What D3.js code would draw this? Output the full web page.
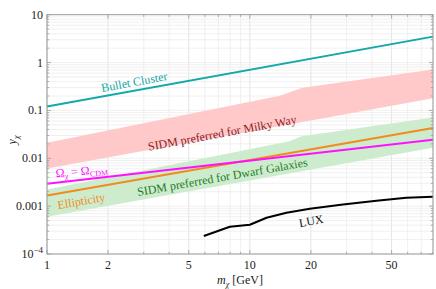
<!DOCTYPE html>
<html>
<head>
<meta charset="utf-8">
<script src="https://cdn.jsdelivr.net/npm/d3@7"></script>
<style>
  body { margin: 0; background: #fff; }
  text { font-family: "Liberation Serif", "DejaVu Serif", serif; }
</style>
</head>
<body>
<svg id="chart" width="436" height="289"></svg>
<script>
// data (m in GeV, y dimensionless)
const bulletCluster = [[1, 0.121], [80, 3.48]];
const omegaCDM = [[1, 0.00293], [80, 0.0245]];
const ellipticity = [[1, 0.00167], [80, 0.043]];
const milkyWayTop = [[1, 0.0212], [14.05, 0.202], [18.2, 0.297], [80, 0.72]];
const milkyWayBottom = [[1, 0.0061], [80, 0.18]];
const dwarfTop = [[1, 0.00223], [15.7, 0.0226], [18, 0.0288], [80, 0.0714]];
const dwarfBottom = [[1, 0.0006], [80, 0.0165]];
const lux = [[5.93, 2.37e-4], [7.97, 3.72e-4], [10.0, 4.09e-4], [12.09, 5.73e-4],
             [15.16, 7.28e-4], [19.75, 8.83e-4], [28.8, 1.08e-3], [42.1, 1.30e-3],
             [59.1, 1.50e-3], [80, 1.57e-3]];
const xTicks = [1, 2, 5, 10, 20, 50];
const yTicks = [1e-4, 1e-3, 1e-2, 0.1, 1, 10];
const yTickLabels = ["10^-4", "0.001", "0.01", "0.1", "1", "10"];

const svg = d3.select("#chart");
const margin = {left: 47, top: 14.7, right: 3, bottom: 35};
const W = 436, H = 289;

const x = d3.scaleLog().domain([1, 80]).range([margin.left, W - margin.right]);
const y = d3.scaleLog().domain([1e-4, 10]).range([H - margin.bottom, margin.top]);

// minor tick positions
const xMinor = [];
for (let d = 1; d <= 10; d *= 10)
  for (let k = 1; k < 10; k++) if (d * k <= 80) xMinor.push(d * k);
const yMinor = [];
for (let d = 1e-4; d < 10; d *= 10)
  for (let k = 1; k < 10; k++) yMinor.push(d * k);

const g = svg.append("g");

// grid
g.selectAll(".gx").data(xMinor).enter().append("line")
  .attr("x1", d => x(d)).attr("x2", d => x(d))
  .attr("y1", y(1e-4)).attr("y2", y(10))
  .attr("stroke", d => xTicks.includes(d) ? "#dcdcdc" : "#ececec").attr("stroke-width", 0.8);
g.selectAll(".gy").data(yMinor).enter().append("line")
  .attr("x1", x(1)).attr("x2", x(80))
  .attr("y1", d => y(d)).attr("y2", d => y(d))
  .attr("stroke", "#ececec").attr("stroke-width", 0.8);

// bands
const line = d3.line().x(d => x(d[0])).y(d => y(d[1]));
function band(top, bottom, fill) {
  const pts = top.concat(bottom.slice().reverse());
  g.append("path").attr("d", line(pts) + "Z").attr("fill", fill);
}
band(milkyWayTop, milkyWayBottom, "#ffc9c9");
band(dwarfTop, dwarfBottom, "#cdeccd");

function curve(data, color) {
  g.append("path").attr("d", line(data)).attr("fill", "none")
    .attr("stroke", color).attr("stroke-width", 2).attr("stroke-linejoin", "round");
}
curve(ellipticity, "#f28a1c");
curve(omegaCDM, "#ff10ff");
curve(bulletCluster, "#14a8a8");
curve(lux, "#000");

// frame
g.append("rect").attr("x", x(1)).attr("y", y(10))
  .attr("width", x(80) - x(1)).attr("height", y(1e-4) - y(10))
  .attr("fill", "none").attr("stroke", "#9a9a9a").attr("stroke-width", 1);

// ticks on all sides
const tk = svg.append("g").attr("stroke", "#9a9a9a").attr("stroke-width", 0.8);
xMinor.forEach(d => {
  const len = xTicks.includes(d) ? 4 : 2.2;
  tk.append("line").attr("x1", x(d)).attr("x2", x(d)).attr("y1", y(1e-4)).attr("y2", y(1e-4) - len);
  tk.append("line").attr("x1", x(d)).attr("x2", x(d)).attr("y1", y(10)).attr("y2", y(10) + len);
});
yMinor.concat([10]).forEach(d => {
  const len = yTicks.includes(d) ? 4 : 2.2;
  tk.append("line").attr("y1", y(d)).attr("y2", y(d)).attr("x1", x(1)).attr("x2", x(1) + len);
  tk.append("line").attr("y1", y(d)).attr("y2", y(d)).attr("x1", x(80)).attr("x2", x(80) - len);
});

// tick labels
svg.selectAll(".xl").data(xTicks).enter().append("text")
  .attr("x", d => x(d)).attr("y", H - margin.bottom + 15)
  .attr("text-anchor", "middle").attr("font-size", 12).attr("fill", "#222")
  .text(d => d);
yTicks.forEach((d, i) => {
  const t = svg.append("text").attr("x", margin.left - 4).attr("y", y(d) + 4)
    .attr("text-anchor", "end").attr("font-size", 12).attr("fill", "#222");
  const lab = yTickLabels[i];
  if (lab.includes("^")) {
    const [b, e] = lab.split("^");
    t.append("tspan").text(b);
    t.append("tspan").attr("dy", -5).attr("font-size", 9).text(e.replace("-", "\u2212"));
  } else t.text(lab);
});

// axis titles
const xt = svg.append("text").attr("x", 240).attr("y", 284)
  .attr("text-anchor", "middle").attr("font-size", 12).attr("fill", "#222");
xt.append("tspan").attr("font-style", "italic").text("m");
xt.append("tspan").attr("font-style", "italic").attr("font-size", 8).attr("dy", 3).text("\u03c7");
xt.append("tspan").attr("dy", -3).text(" [GeV]");
const yt = svg.append("text").attr("transform", "translate(16,140) rotate(-90)")
  .attr("text-anchor", "middle").attr("font-size", 12).attr("fill", "#222");
yt.append("tspan").attr("font-style", "italic").text("y");
yt.append("tspan").attr("font-style", "italic").attr("font-size", 8).attr("dy", 3).text("\u03c7");

// in-plot labels
function label(px, py, angle, color, txt) {
  return svg.append("text")
    .attr("transform", `translate(${px},${py}) rotate(${angle})`)
    .attr("text-anchor", "middle").attr("font-size", 12).attr("fill", color).text(txt);
}
label(135, 86, -10.5, "#14a8a8", "Bullet Cluster");
label(223, 137, -10.5, "#8b1a1a", "SIDM preferred for Milky Way");
label(223, 181, -10, "#1e7a1e", "SIDM preferred for Dwarf Galaxies");
label(82, 205, -10, "#f28a1c", "Ellipticity");
label(312, 225, -10, "#111", "LUX");
const om = svg.append("text").attr("transform", "translate(82,175) rotate(-5)")
  .attr("text-anchor", "middle").attr("font-size", 12).attr("fill", "#ff10ff");
om.append("tspan").text("\u03a9");
om.append("tspan").attr("font-size", 8).attr("dy", 2.5).text("\u03c7");
om.append("tspan").attr("dy", -2.5).text(" = \u03a9");
om.append("tspan").attr("font-size", 8).attr("dy", 2.5).text("CDM");
</script>
</body>
</html>
